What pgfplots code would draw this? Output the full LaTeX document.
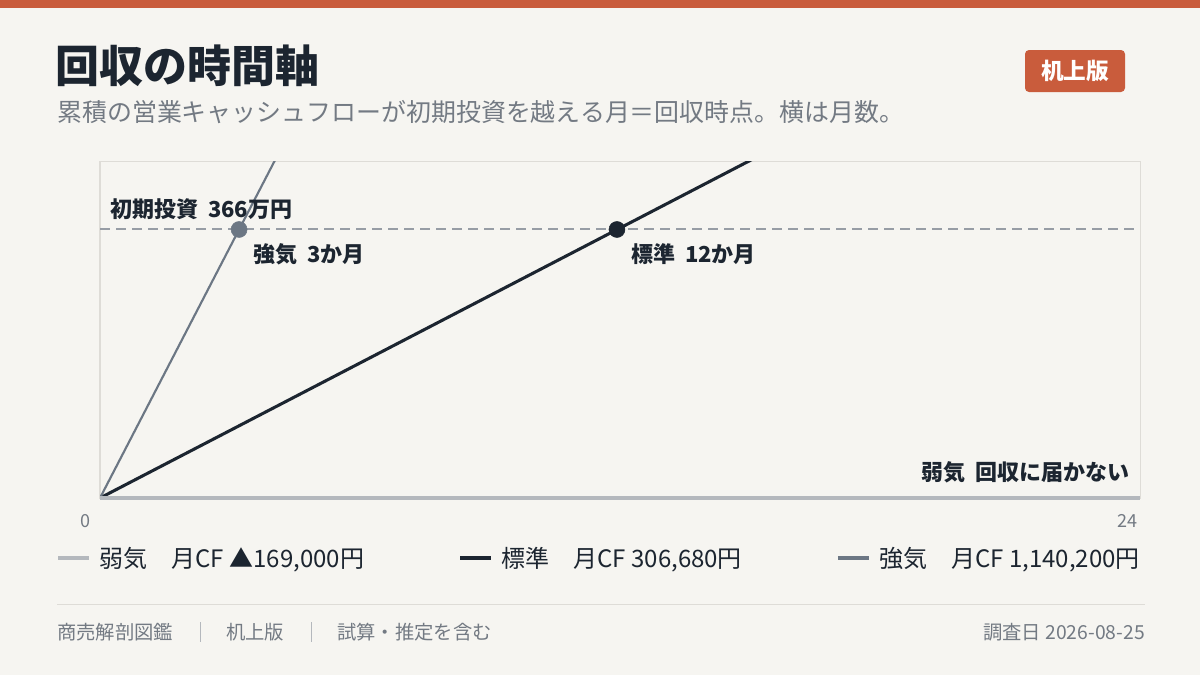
\documentclass[border=0pt]{standalone}
\usepackage{pgfplots}
\pgfplotsset{compat=1.18}
\usepackage{fontspec}
\setmainfont{Noto Sans CJK JP}

\definecolor{bg}{HTML}{F6F5F1}
\definecolor{accent}{HTML}{C95C3C}
\definecolor{ink}{HTML}{1C2530}
\definecolor{slate}{HTML}{6C7784}
\definecolor{lightln}{HTML}{B4B8BD}
\definecolor{muted}{HTML}{737A83}
\definecolor{frame}{HTML}{DEDCD7}
\definecolor{dashgray}{HTML}{979DA5}

\begin{document}
\begin{tikzpicture}
% page in pixel units, y downward
\begin{scope}[x=0.75pt,y=-0.75pt]
  \fill[bg] (0,0) rectangle (1200,675);
  \fill[accent] (0,0) rectangle (1200,8);
  \node[anchor=west, inner sep=0, text=ink, font=\fontsize{33}{38}\selectfont\bfseries] at (55,66) {回収の時間軸};
  \node[anchor=west, inner sep=0, text=muted, font=\fontsize{18.7}{22}\selectfont] at (57,112) {累積の営業キャッシュフローが初期投資を越える月＝回収時点。横は月数。};
  \node[fill=accent, rounded corners=3pt, minimum width=75pt, minimum height=31.5pt, inner sep=0,
        text=white, font=\fontsize{17}{20}\selectfont\bfseries] at (1075,71) {机上版};
  % footer
  \draw[frame, line width=0.75pt] (57,604) -- (1145,604);
  \begin{scope}[every node/.style={inner sep=0, text=muted, font=\fontsize{14.5}{18}\selectfont}]
    \node[anchor=west] at (57,632) {商売解剖図鑑};
    \node[anchor=west] at (226,632) {机上版};
    \node[anchor=west] at (337,632) {試算・推定を含む};
    \node[anchor=east] at (1145,632) {調査日\ 2026-08-25};
  \end{scope}
  \draw[lightln, line width=0.75pt] (200,622) -- (200,642);
  \draw[lightln, line width=0.75pt] (311,622) -- (311,642);
\end{scope}

\begin{axis}[
  at={(75pt,-373.5pt)}, anchor=south west,
  scale only axis, width=780pt, height=252pt,
  xmin=0, xmax=24, ymin=0, ymax=458,
  clip mode=individual,
  axis line style={draw=frame, line width=0.75pt},
  xtick=\empty, ytick=\empty,
  legend columns=3,
  legend cell align=left,
  legend style={at={(rel axis cs:-0.0423,-0.1786)}, anchor=west,
    draw=none, fill=none, inner sep=0pt,
    nodes={inner sep=0pt, text=ink},
    font=\fontsize{18}{22}\selectfont,
    /tikz/every odd column/.append style={column sep=6.5pt},
    /tikz/every even column/.append style={column sep=70.5pt}},
  legend image code/.code={\draw[#1, line width=3pt] (0pt,0pt) -- (23pt,0pt);},
]
  \addplot[lightln, line width=2pt] coordinates {(0,0) (24,-405.6)};
  \addlegendentry{弱気　月CF ▲169,000円}
  \addplot[dashgray, line width=1.5pt, dash pattern=on 7.5pt off 4.5pt, forget plot] coordinates {(0,366) (24,366)};
  \addplot[ink, line width=2.3pt] coordinates {(0,0) (24,736.0)};
  \addlegendentry{標準　月CF 306,680円}
  \addplot[slate, line width=1.6pt] coordinates {(0,0) (24,2736.5)};
  \addlegendentry{強気　月CF 1,140,200円}
  \addplot[only marks, mark=*, mark size=6pt, mark options={draw=slate, fill=slate}, forget plot] coordinates {(3.21,366)};
  \addplot[only marks, mark=*, mark size=6pt, mark options={draw=ink, fill=ink}, forget plot] coordinates {(11.93,366)};
  \draw[lightln, line width=2.4pt] (rel axis cs:0,0) -- (rel axis cs:1,0);

  \node[anchor=west, inner sep=0, text=ink, font=\fontsize{16.5}{20}\selectfont\bfseries] at (axis cs:0.23,366) [yshift=15pt] {初期投資\hspace{0.45em}366万円};
  \node[anchor=west, inner sep=0, text=ink, font=\fontsize{16.5}{20}\selectfont\bfseries] at (axis cs:3.53,366) [yshift=-18.75pt] {強気\hspace{0.45em}3か月};
  \node[anchor=west, inner sep=0, text=ink, font=\fontsize{16.5}{20}\selectfont\bfseries] at (axis cs:12.25,366) [yshift=-18.75pt] {標準\hspace{0.45em}12か月};
  \node[anchor=east, inner sep=0, text=ink, font=\fontsize{16.5}{20}\selectfont\bfseries] at (axis cs:24,0) [xshift=-7.5pt, yshift=19.5pt] {弱気\hspace{0.45em}回収に届かない};
  \node[inner sep=0, text=muted, font=\fontsize{13.5}{16}\selectfont] at (axis cs:0,0) [xshift=-11.25pt, yshift=-17pt] {0};
  \node[anchor=east, inner sep=0, text=muted, font=\fontsize{13.5}{16}\selectfont] at (axis cs:24,0) [xshift=-1.5pt, yshift=-17pt] {24};
\end{axis}
\end{tikzpicture}
\end{document}
